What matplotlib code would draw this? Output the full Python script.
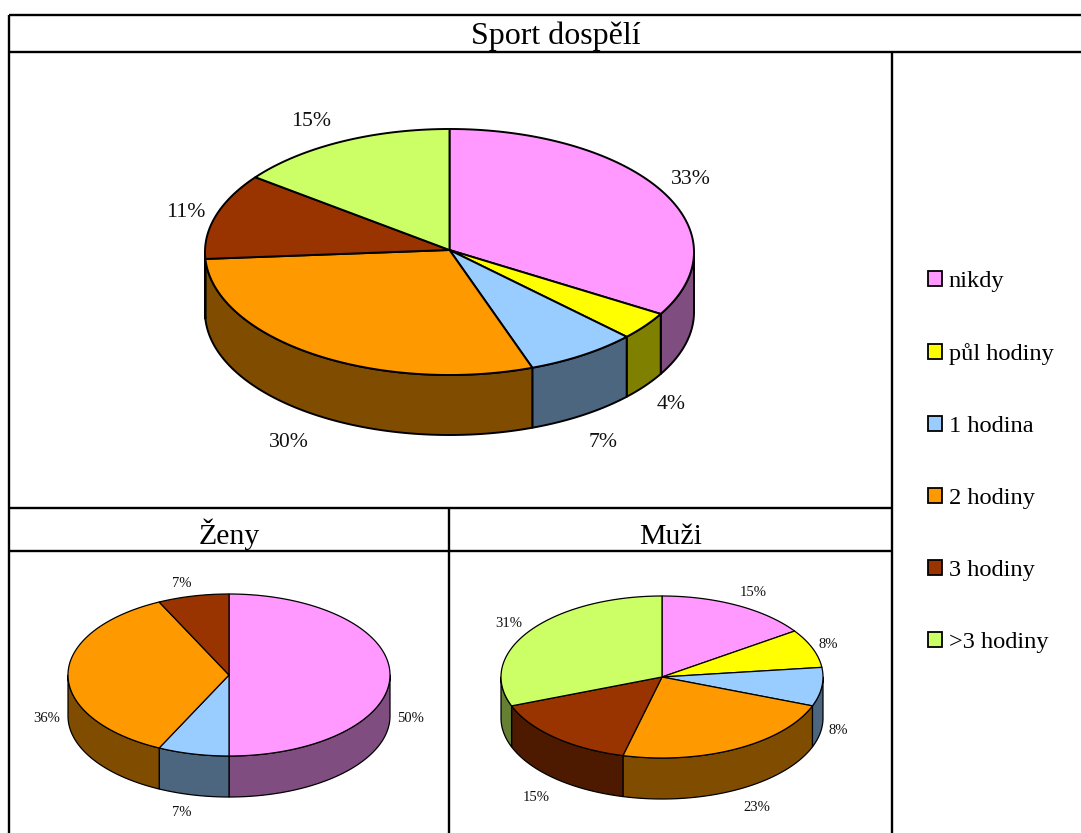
import numpy as np
import matplotlib
matplotlib.use('Agg')
import matplotlib.pyplot as plt
from matplotlib.patches import Polygon, Patch

plt.rcParams['font.family'] = ['Liberation Serif', 'DejaVu Serif']

# Donnees (%)
categories = ['nikdy', 'půl hodiny', '1 hodina', '2 hodiny', '3 hodiny', '>3 hodiny']
colors = ['#FF99FF', '#FFFF00', '#99CCFF', '#FF9900', '#993300', '#CCFF66']
dark_colors = ['#804D80', '#808000', '#4D6680', '#804D00', '#4D1A00', '#668033']

sport_all = [33.4, 3.7, 7.4, 29.6, 11.3, 14.6]
sport_women = [50, 0, 7.14, 35.72, 7.14, 0]
sport_men = [15.4, 7.7, 7.7, 23.1, 15.3, 30.8]

titles = ['Sport dospělí', 'Ženy', 'Muži']

# Decalage des etiquettes en pixels (dx, dy)
nudge_all = [(-7, 1), (-7, 4), (-3, 7), (-3, 7), (10, 4), (-12, 2)]
nudge_women = [(-7, 2), None, (-5, 2), (6, 2), (-5, 3), None]
nudge_men = [(4, 2), (-10, 2), (-11, 1), (8, 3), (-1, 7), (2, 2)]


def arc(cx, cy, rx, ry, a1, a2):
    # angles in degrees, clockwise from the top of the ellipse
    t = np.radians(np.linspace(a1, a2, max(int(abs(a2 - a1)) * 2, 2)))
    return np.column_stack([cx + rx * np.sin(t), cy - ry * np.cos(t)])


def draw_pie(ax, values, nudges, cx, cy, rx, ry, depth, lw, fontsize, apex_dy=0):
    edges = np.concatenate([[0], np.cumsum(values)]) * 360.0 / sum(values)

    # side walls: only the front half of the disc is visible
    for i, v in enumerate(values):
        a1, a2 = max(edges[i], 90), min(edges[i + 1], 270)
        if v == 0 or a2 <= a1:
            continue
        top = arc(cx, cy, rx, ry, a1, a2)
        bottom = arc(cx, cy + depth, rx, ry, a2, a1)
        ax.add_patch(Polygon(np.vstack([top, bottom]), closed=True, facecolor=dark_colors[i],
                             edgecolor='black', linewidth=lw, joinstyle='round', zorder=2))

    # top slices and labels
    for i, v in enumerate(values):
        if v == 0:
            continue
        pts = np.vstack([[cx, cy + apex_dy], arc(cx, cy, rx, ry, edges[i], edges[i + 1])])
        ax.add_patch(Polygon(pts, closed=True, facecolor=colors[i], edgecolor='black',
                             linewidth=lw, joinstyle='round', zorder=3))
        mid = np.radians((edges[i] + edges[i + 1]) / 2)
        lx = cx + rx * 1.17 * np.sin(mid) + nudges[i][0]
        ly = cy - ry * 1.2 * np.cos(mid) + nudges[i][1]
        if np.cos(mid) < 0.05:
            ly += depth
        ax.text(lx, ly, '%.0f%%' % v, ha='center', va='center', fontsize=fontsize,
                color='#111111', zorder=4)


fig = plt.figure(figsize=(10.81, 8.33), dpi=100)
ax = fig.add_axes([0, 0, 1, 1])
ax.set_xlim(0, 1081)
ax.set_ylim(833, 0)
ax.axis('off')

# Table frame
line_kw = dict(color='black', linewidth=1.7, solid_capstyle='butt', zorder=1)
ax.plot([9, 1081], [15, 15], **line_kw)
ax.plot([9, 1081], [52, 52], **line_kw)
ax.plot([9, 892], [508, 508], **line_kw)
ax.plot([9, 892], [551, 551], **line_kw)
ax.plot([9, 9], [15, 833], **line_kw)
ax.plot([892, 892], [52, 833], **line_kw)
ax.plot([449, 449], [508, 833], **line_kw)

ax.text(556, 44, titles[0], ha='center', va='baseline', fontsize=23)
ax.text(229, 544, titles[1], ha='center', va='baseline', fontsize=21.5)
ax.text(671, 544, titles[2], ha='center', va='baseline', fontsize=21.5)

draw_pie(ax, sport_all, nudge_all, 449.5, 252, 244.5, 123, 60, 1.4, 15.7, apex_dy=-2)
draw_pie(ax, sport_women, nudge_women, 229, 675, 161, 81, 41, 0.9, 10.5)
draw_pie(ax, sport_men, nudge_men, 662, 677, 161, 81, 41, 0.9, 10.5)

handles = [Patch(facecolor=c, edgecolor='black', linewidth=1.3) for c in colors]
ax.legend(handles, categories, loc='center left', bbox_to_anchor=(928, 462),
          bbox_transform=ax.transData, frameon=False, fontsize=17.6,
          handlelength=0.56, handleheight=0.56, handletextpad=0.28, labelspacing=2.08,
          borderpad=0, borderaxespad=0)

fig.savefig('out.png', dpi=100)
